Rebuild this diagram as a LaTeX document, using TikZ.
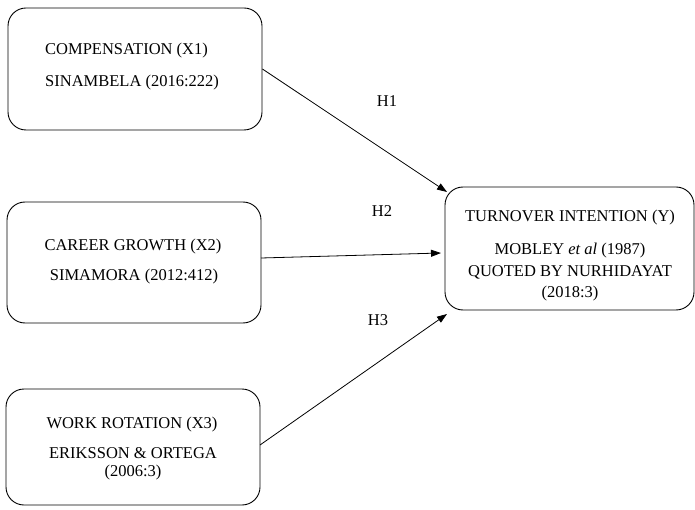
\documentclass[tikz,border=0pt]{standalone}
\usepackage{fontspec}
\setmainfont{Liberation Serif}
\usetikzlibrary{arrows.meta}
\begin{document}
\begin{tikzpicture}[x=1pt,y=-1pt,
  box/.style={draw,line width=0.9pt,rounded corners=18pt,inner sep=0pt},
  txt/.style={font=\fontsize{16.5}{20}\selectfont,inner sep=0pt,anchor=base},
  ltxt/.style={txt,anchor=base west},
  conn/.style={line width=0.8pt,-{Triangle[length=10pt,width=7pt]}},
  hlab/.style={font=\fontsize{16.5}{20}\selectfont,inner sep=0pt}]
\useasboundingbox (0,0) rectangle (695,510);
% boxes
\node[box,minimum width=254pt,minimum height=122pt] (b1) at (135,69) {};
\node[box,minimum width=254pt,minimum height=121pt] (b2) at (134,262.5) {};
\node[box,minimum width=254pt,minimum height=116pt] (b3) at (133,447) {};
\node[box,minimum width=249pt,minimum height=123pt] (y) at (569.5,248.5) {};
% texts
\node[ltxt] (t11) at (45,54.5) {COMPENSATION (X1)};
\node[ltxt] (t12) at (45,86.5) {SINAMBELA (2016:222)};
\node[txt] (t21) at (133,251) {CAREER GROWTH (X2)};
\node[txt] (t22) at (134,280.5) {SIMAMORA (2012:412)};
\node[txt] (t31) at (132,428.5) {WORK ROTATION (X3)};
\node[txt] (t32) at (133,458.5) {ERIKSSON \& ORTEGA};
\node[txt] (t33) at (133,476) {(2006:3)};
\node[txt] (ty1) at (570,221.5) {TURNOVER INTENTION (Y)};
\node[txt] (ty2) at (570,254.5) {MOBLEY \textit{et al} (1987)};
\node[txt] (ty3) at (570,276.5) {QUOTED BY NURHIDAYAT};
\node[txt] (ty4) at (570,297) {(2018:3)};
% connector ends
\coordinate (e1) at (447,192);
\coordinate (s2) at (261,258);
\coordinate (e2) at (441,253);
\coordinate (s3) at (260,445);
\coordinate (e3) at (447,314);
\draw[conn] (b1.east) -- (e1);
\draw[conn] (s2) -- (e2);
\draw[conn] (s3) -- (e3);
% labels
\node[hlab] (h1) at (387,101) {H1};
\node[hlab] (h2) at (382,211) {H2};
\node[hlab] (h3) at (378,320) {H3};
\end{tikzpicture}
\end{document}
